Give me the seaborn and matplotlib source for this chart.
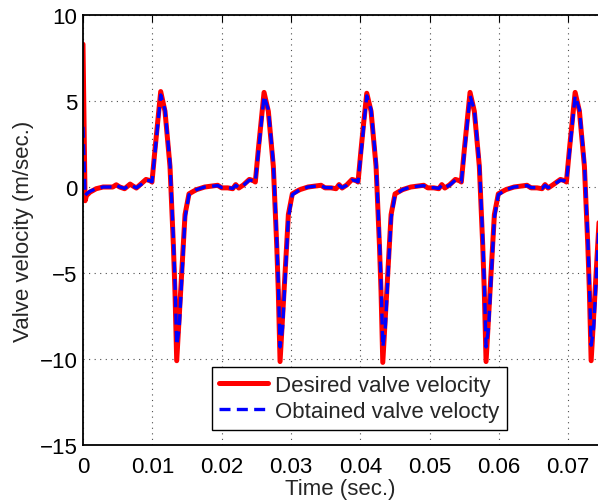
import matplotlib
matplotlib.use("Agg")
import matplotlib.pyplot as plt
import seaborn as sns
import pandas as pd

# ---- data ----
time_s = [
    0.0, 0.0003, 0.0005, 0.0010, 0.0019, 0.0029, 0.0043, 0.0048, 0.0053, 0.0060, 0.0068, 0.0072, 0.0077, 0.0084,
    0.00909, 0.00967, 0.00995, 0.01039, 0.01078, 0.01121, 0.01183, 0.01255, 0.01304, 0.01327, 0.01352, 0.01388,
    0.01424, 0.01472, 0.01529, 0.01593, 0.01640, 0.01756, 0.01943, 0.02001, 0.02088, 0.02160, 0.02203, 0.02247, 0.02314,
    0.02400, 0.02458, 0.02486, 0.02530, 0.02569, 0.02612, 0.02674, 0.02746, 0.02795, 0.02818, 0.02843, 0.02879,
    0.02915, 0.02963, 0.03020, 0.03084, 0.03131, 0.03247, 0.03434, 0.03492, 0.03579, 0.03651, 0.03694, 0.03738, 0.03805,
    0.03882, 0.03940, 0.03968, 0.04012, 0.04051, 0.04094, 0.04156, 0.04228, 0.04277, 0.04300, 0.04325, 0.04361,
    0.04397, 0.04445, 0.04502, 0.04566, 0.04613, 0.04729, 0.04916, 0.04974, 0.05061, 0.05133, 0.05176, 0.05220, 0.05287,
    0.05372, 0.05430, 0.05458, 0.05502, 0.05541, 0.05584, 0.05646, 0.05718, 0.05767, 0.05790, 0.05815, 0.05851,
    0.05887, 0.05935, 0.05992, 0.06056, 0.06103, 0.06219, 0.06406, 0.06464, 0.06551, 0.06623, 0.06666, 0.06710, 0.06777,
    0.06888, 0.06946, 0.06974, 0.07018, 0.07057, 0.07100, 0.07162, 0.07234, 0.07283, 0.07306, 0.07331, 0.07367,
    0.07403, 0.07451, 0.07508,
]

desired_velocity = [
    8.3, -0.8, -0.5, -0.3, -0.1, 0.0, 0.0, 0.13, 0.0, -0.1, 0.17, 0.06, -0.06, 0.19,
    0.44, 0.37, 0.29, 2.2, 3.8, 5.55, 4.4, 1.2, -3.4, -6.1, -10.1, -7.6,
    -5.0, -1.6, -0.4, -0.25, -0.15, 0.0, 0.1, -0.05, -0.05, -0.1, 0.14, -0.06, 0.12,
    0.44, 0.37, 0.29, 2.2, 3.8, 5.5, 4.4, 1.2, -3.4, -6.1, -10.15, -7.6,
    -5.0, -1.6, -0.4, -0.25, -0.15, 0.0, 0.1, -0.05, -0.05, -0.1, 0.14, -0.06, 0.12,
    0.44, 0.37, 0.29, 2.2, 3.8, 5.45, 4.4, 1.2, -3.4, -6.1, -10.2, -7.6,
    -5.0, -1.6, -0.4, -0.25, -0.15, 0.0, 0.1, -0.05, -0.05, -0.1, 0.14, -0.06, 0.12,
    0.44, 0.37, 0.29, 2.2, 3.8, 5.5, 4.4, 1.2, -3.4, -6.1, -10.15, -7.6,
    -5.0, -1.6, -0.4, -0.25, -0.15, 0.0, 0.1, -0.05, -0.05, -0.1, 0.14, -0.06, 0.12,
    0.44, 0.37, 0.29, 2.2, 3.8, 5.5, 4.4, 1.2, -3.4, -6.1, -10.1, -7.6,
    -5.0, -1.6, -0.4,
]

obtained_velocity = [
    3.5, -0.5, -0.4, -0.25, -0.1, 0.0, 0.0, 0.1, 0.0, -0.08, 0.12, 0.05, -0.05, 0.15,
    0.40, 0.36, 0.30, 2.0, 3.6, 5.35, 4.5, 1.4, -3.0, -5.6, -9.2, -8.2,
    -5.4, -1.8, -0.45, -0.28, -0.15, 0.0, 0.08, -0.03, -0.04, -0.08, 0.1, -0.04, 0.1,
    0.40, 0.36, 0.30, 2.0, 3.6, 5.3, 4.5, 1.4, -3.0, -5.6, -9.3, -8.2,
    -5.4, -1.8, -0.45, -0.28, -0.15, 0.0, 0.08, -0.03, -0.04, -0.08, 0.1, -0.04, 0.1,
    0.40, 0.36, 0.30, 2.0, 3.6, 5.3, 4.5, 1.4, -3.0, -5.6, -9.3, -8.2,
    -5.4, -1.8, -0.45, -0.28, -0.15, 0.0, 0.08, -0.03, -0.04, -0.08, 0.1, -0.04, 0.1,
    0.40, 0.36, 0.30, 2.0, 3.6, 5.3, 4.5, 1.4, -3.0, -5.6, -9.3, -8.2,
    -5.4, -1.8, -0.45, -0.28, -0.15, 0.0, 0.08, -0.03, -0.04, -0.08, 0.1, -0.04, 0.1,
    0.40, 0.36, 0.30, 2.0, 3.6, 5.3, 4.5, 1.4, -3.0, -5.6, -9.2, -8.2,
    -5.4, -1.8, -0.45,
]

x_ticks = [0, 0.01, 0.02, 0.03, 0.04, 0.05, 0.06, 0.07]
x_tick_labels = ["0", "0.01", "0.02", "0.03", "0.04", "0.05", "0.06", "0.07"]
y_ticks = [-15, -10, -5, 0, 5, 10]

label_desired = "Desired valve velocity"
label_obtained = "Obtained valve velocty"

# ---- style ----
sns.set_theme(style="white")
plt.rcParams["font.family"] = ["Liberation Sans", "DejaVu Sans"]
plt.rcParams["axes.unicode_minus"] = True
FS = 16

df = pd.DataFrame({"t": time_s, "desired": desired_velocity, "obtained": obtained_velocity})

fig = plt.figure(figsize=(5.98, 5.02), dpi=100)
ax = fig.add_axes([83 / 598, 56 / 502, (598 - 83) / 598, (446 - 16) / 502])

sns.lineplot(data=df, x="t", y="desired", ax=ax, color="#ff0000", linewidth=3.6,
             estimator=None, sort=False, label=label_desired, solid_joinstyle="round")
sns.lineplot(data=df, x="t", y="obtained", ax=ax, color="#0000ff", linewidth=2.4,
             estimator=None, sort=False, label=label_obtained, linestyle=(0, (3.3, 1.9)))

ax.set_xlim(0, 0.0743)
ax.set_ylim(-15, 10)
ax.set_xticks(x_ticks)
ax.set_xticklabels(x_tick_labels)
ax.set_yticks(y_ticks)

ax.grid(True, color="0.3", linestyle=(0, (1, 4)), linewidth=0.8)
for s in ["left", "bottom", "top"]:
    ax.spines[s].set_color("black")
    ax.spines[s].set_linewidth(1.3)
ax.spines["right"].set_visible(False)

ax.tick_params(axis="both", direction="in", length=5, width=0.8, colors="black",
               labelsize=FS, top=True)
ax.tick_params(axis="x", pad=8)
ax.tick_params(axis="y", pad=4)

ax.set_xlabel("Time (sec.)", fontsize=FS, labelpad=1)
ax.set_ylabel("Valve velocity (m/sec.)", fontsize=FS, labelpad=4)

leg = ax.legend(loc="upper left", bbox_to_anchor=(211.7 / 598, 1 - 368.3 / 502),
                bbox_transform=fig.transFigure, borderaxespad=0, frameon=True,
                fancybox=False, framealpha=1, edgecolor="black", fontsize=FS,
                handlelength=2.2, handletextpad=0.3, labelspacing=0.22, borderpad=0.35)
leg.get_frame().set_linewidth(1.0)

fig.savefig("out.png", dpi=100)
